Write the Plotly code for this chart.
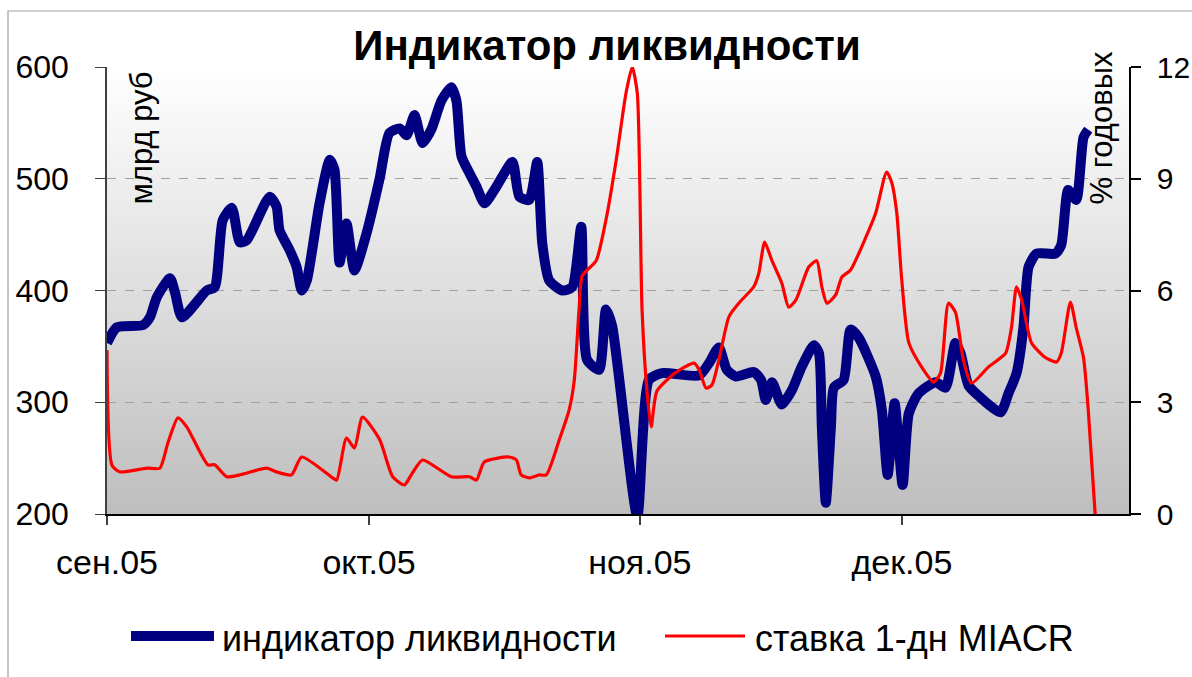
import plotly.graph_objects as go

# ---------------- data ----------------
liq_dates = [
    "2005-09-01 00:00", "2005-09-02 03:00", "2005-09-05 03:00", "2005-09-05 22:00",
    "2005-09-06 17:00", "2005-09-08 05:00", "2005-09-08 19:00", "2005-09-09 14:00",
    "2005-09-12 10:00", "2005-09-13 08:00", "2005-09-14 06:00", "2005-09-15 07:00",
    "2005-09-16 05:00", "2005-09-17 00:00", "2005-09-19 15:00", "2005-09-20 10:00",
    "2005-09-20 18:00", "2005-09-21 22:00", "2005-09-22 17:00", "2005-09-23 07:00",
    "2005-09-23 21:00", "2005-09-25 08:00", "2005-09-26 12:00", "2005-09-27 01:00",
    "2005-09-27 15:00", "2005-09-28 10:00", "2005-09-29 08:00", "2005-09-30 17:00",
    "2005-10-02 05:00", "2005-10-03 08:00", "2005-10-04 12:00", "2005-10-05 07:00",
    "2005-10-06 05:00", "2005-10-07 03:00", "2005-10-08 03:00", "2005-10-09 07:00",
    "2005-10-10 10:00", "2005-10-11 00:00", "2005-10-11 14:00", "2005-10-12 12:00",
    "2005-10-13 07:00", "2005-10-14 05:00", "2005-10-15 14:00", "2005-10-17 10:00",
    "2005-10-18 05:00", "2005-10-19 08:00", "2005-10-20 06:00", "2005-10-20 20:00",
    "2005-10-21 15:00", "2005-10-23 03:00", "2005-10-24 06:00", "2005-10-25 07:00",
    "2005-10-25 23:00", "2005-10-27 08:00", "2005-10-28 03:00", "2005-10-28 20:00",
    "2005-10-31 17:00", "2005-11-02 01:00", "2005-11-03 13:00", "2005-11-07 19:00",
    "2005-11-08 22:00", "2005-11-10 01:00", "2005-11-10 23:00", "2005-11-12 00:00",
    "2005-11-14 01:00", "2005-11-14 21:00", "2005-11-15 10:00", "2005-11-16 03:00",
    "2005-11-17 06:00", "2005-11-18 10:00", "2005-11-19 13:00", "2005-11-20 22:00",
    "2005-11-21 12:00", "2005-11-21 20:00", "2005-11-22 07:00", "2005-11-22 21:00",
    "2005-11-23 05:00", "2005-11-24 08:00", "2005-11-25 03:00", "2005-11-26 01:00",
    "2005-11-28 00:00", "2005-11-28 17:00", "2005-11-29 09:00", "2005-11-30 04:00",
    "2005-12-01 02:00", "2005-12-01 19:00", "2005-12-02 22:00", "2005-12-04 21:00",
    "2005-12-06 00:00", "2005-12-07 03:00", "2005-12-07 17:00", "2005-12-08 15:00",
    "2005-12-09 18:00", "2005-12-12 07:00", "2005-12-13 05:00", "2005-12-14 03:00",
    "2005-12-14 22:00", "2005-12-15 12:00", "2005-12-16 10:00", "2005-12-18 14:00",
    "2005-12-19 06:00", "2005-12-20 01:00", "2005-12-20 23:00", "2005-12-21 19:00",
    "2005-12-22 08:00",
]
liq_values = [
    353, 367, 369, 376, 394, 411, 398, 376, 400, 403, 463, 474, 443, 445, 484, 475,
    454, 436, 421, 400, 409, 478, 517, 508, 425, 460, 418, 451, 500, 541, 545, 539,
    557, 532, 544, 570, 582, 570, 520, 505, 493, 478, 493, 515, 484, 481, 515, 442,
    409, 400, 403, 457, 338, 329, 383, 368, 198, 320, 326, 324, 335, 349, 329, 323,
    327, 320, 302, 318, 298, 311, 332, 351, 344, 278, 210, 278, 313, 320, 365, 358,
    323, 293, 235, 299, 226, 290, 308, 318, 313, 353, 344, 315, 306, 291, 308, 326,
    367, 421, 433, 433, 441, 490, 481, 537, 544,
]

rate_dates = [
    "2005-09-01 00:00", "2005-09-01 14:00", "2005-09-02 12:00", "2005-09-05 14:00",
    "2005-09-07 01:00", "2005-09-07 23:00", "2005-09-09 03:00", "2005-09-10 03:00",
    "2005-09-12 13:00", "2005-09-13 08:00", "2005-09-14 17:00", "2005-09-16 05:00",
    "2005-09-19 07:00", "2005-09-20 10:00", "2005-09-22 03:00", "2005-09-23 07:00",
    "2005-09-26 20:00", "2005-09-27 07:00", "2005-09-28 10:00", "2005-09-29 08:00",
    "2005-09-30 06:00", "2005-10-02 05:00", "2005-10-03 17:00", "2005-10-05 01:00",
    "2005-10-05 23:00", "2005-10-07 03:00", "2005-10-10 10:00", "2005-10-12 12:00",
    "2005-10-13 07:00", "2005-10-14 05:00", "2005-10-17 01:00", "2005-10-17 21:00",
    "2005-10-18 10:00", "2005-10-19 08:00", "2005-10-20 12:00", "2005-10-21 07:00",
    "2005-10-22 19:00", "2005-10-23 22:00", "2005-10-24 12:00", "2005-10-25 01:00",
    "2005-10-25 10:00", "2005-10-27 00:00", "2005-10-28 03:00", "2005-10-29 07:00",
    "2005-10-30 10:00", "2005-10-31 03:00", "2005-10-31 17:00", "2005-11-01 06:00",
    "2005-11-01 20:00", "2005-11-02 07:00", "2005-11-02 23:00", "2005-11-05 03:00",
    "2005-11-07 05:00", "2005-11-07 19:00", "2005-11-08 14:00", "2005-11-09 06:00",
    "2005-11-10 01:00", "2005-11-11 05:00", "2005-11-12 08:00", "2005-11-14 01:00",
    "2005-11-14 15:00", "2005-11-15 07:00", "2005-11-16 03:00", "2005-11-17 06:00",
    "2005-11-18 01:00", "2005-11-18 21:00", "2005-11-20 08:00", "2005-11-21 06:00",
    "2005-11-21 20:00", "2005-11-22 10:00", "2005-11-23 10:00", "2005-11-24 03:00",
    "2005-11-25 03:00", "2005-11-26 21:00", "2005-11-28 00:00", "2005-11-29 06:00",
    "2005-11-29 20:00", "2005-11-30 10:00", "2005-11-30 23:00", "2005-12-01 19:00",
    "2005-12-03 06:00", "2005-12-04 15:00", "2005-12-05 10:00", "2005-12-06 08:00",
    "2005-12-07 03:00", "2005-12-08 01:00", "2005-12-08 23:00", "2005-12-10 22:00",
    "2005-12-12 21:00", "2005-12-13 13:00", "2005-12-14 03:00", "2005-12-14 17:00",
    "2005-12-15 20:00", "2005-12-17 10:00", "2005-12-18 17:00", "2005-12-19 06:00",
    "2005-12-20 07:00", "2005-12-20 23:00", "2005-12-21 19:00", "2005-12-22 08:00",
    "2005-12-23 03:00",
]
rate_values = [
    4.4, 1.3, 1.13, 1.23, 1.23, 1.9, 2.58, 2.34, 1.32, 1.32, 1.0, 1.05,
    1.23, 1.13, 1.05, 1.53, 0.97, 0.91, 2.04, 1.77, 2.6, 2.0, 1.0, 0.78,
    1.1, 1.45, 1.0, 1.0, 0.91, 1.4, 1.53, 1.45, 1.05, 0.97, 1.05, 1.05,
    2.0, 2.8, 3.6, 5.5, 6.4, 6.8, 7.9, 9.5, 11.3, 12.0, 11.3, 5.5,
    3.25, 2.34, 3.3, 3.8, 4.05, 3.87, 3.38, 3.46, 4.13, 5.3, 5.66, 6.1,
    6.47, 7.3, 6.8, 6.2, 5.55, 5.75, 6.63, 6.8, 6.1, 5.66, 5.88, 6.36,
    6.55, 7.43, 8.08, 9.18, 8.9, 8.08, 6.36, 4.6, 3.95, 3.54, 3.78, 5.66,
    5.42, 4.13, 3.51, 3.95, 4.32, 5.0, 6.1, 5.75, 4.6, 4.2, 4.08, 4.32,
    5.69, 5.0, 4.2, 2.8, 0.0,
]

month_ticks = ["2005-09-01", "2005-10-01", "2005-11-01", "2005-12-01"]
month_labels = ["сен.05", "окт.05", "ноя.05", "дек.05"]

title_text = "Индикатор ликвидности"
liq_name = "индикатор ликвидности"
rate_name = "ставка 1-дн MIACR"
left_title = "млрд руб"
right_title = "% годовых"

# ---------------- figure ----------------
FONT = "Liberation Sans, Arial, sans-serif"
W, H = 1192, 677
L, R, T, B = 107, 1129, 67, 514

def px_x(x):
    return (x - L) / (R - L)

def px_y(y):
    return (B - y) / (B - T)

fig = go.Figure()
fig.add_trace(go.Scatter(
    x=liq_dates, y=liq_values, name=liq_name, mode="lines",
    line=dict(color="#000080", width=10, shape="spline", smoothing=0.6),
    yaxis="y", showlegend=False,
))
fig.add_trace(go.Scatter(
    x=rate_dates, y=rate_values, name=rate_name, mode="lines",
    line=dict(color="#FF0000", width=3.2, shape="spline", smoothing=0.6),
    yaxis="y2", showlegend=False,
))

shapes = []
# gradient background of plot area
n = 90
for i in range(n):
    t = (i + 0.5) / n  # 0 at top, 1 at bottom
    g = int(round(255 - t * (255 - 190)))
    shapes.append(dict(
        type="rect", xref="x domain", yref="y domain",
        x0=0, x1=1, y0=1 - (i + 1) / n, y1=1 - i / n + 0.002,
        fillcolor=f"rgb({g},{g},{g})", line=dict(width=0), layer="below",
    ))
# outer chart border
shapes.append(dict(
    type="rect", xref="paper", yref="paper",
    x0=px_x(8), x1=px_x(1200), y0=px_y(690), y1=px_y(11),
    line=dict(color="#A0A0A0", width=1.2), fillcolor="rgba(0,0,0,0)", layer="above",
))
# manual legend samples
shapes.append(dict(type="line", xref="paper", yref="paper",
                   x0=px_x(131), x1=px_x(214), y0=px_y(636), y1=px_y(636),
                   line=dict(color="#000080", width=10)))
shapes.append(dict(type="line", xref="paper", yref="paper",
                   x0=px_x(665), x1=px_x(745), y0=px_y(636), y1=px_y(636),
                   line=dict(color="#FF0000", width=3)))

annotations = [
    dict(text=liq_name, xref="paper", yref="paper", x=px_x(220), y=px_y(638),
         xanchor="left", yanchor="middle", showarrow=False,
         font=dict(family=FONT, size=36, color="black")),
    dict(text=rate_name, xref="paper", yref="paper", x=px_x(753), y=px_y(638),
         xanchor="left", yanchor="middle", showarrow=False,
         font=dict(family=FONT, size=36, color="black")),
    dict(text=left_title, xref="paper", yref="paper", x=px_x(141), y=px_y(70),
         xanchor="center", yanchor="top", textangle=-90, showarrow=False,
         font=dict(family=FONT, size=31, color="black")),
    dict(text=right_title, xref="paper", yref="paper", x=px_x(1101), y=px_y(207),
         xanchor="center", yanchor="bottom", textangle=-90, showarrow=False,
         font=dict(family=FONT, size=31, color="black")),
]

fig.update_layout(
    width=W, height=H, autosize=False,
    margin=dict(l=L, r=W - R, t=T, b=H - B, pad=0, autoexpand=False),
    paper_bgcolor="white", plot_bgcolor="rgba(0,0,0,0)",
    title=dict(text=f"<b>{title_text}</b>", x=607 / W, xanchor="center",
               y=1 - 45 / H, yanchor="middle",
               font=dict(family=FONT, size=42, color="black")),
    font=dict(family=FONT, size=31, color="black"),
    shapes=shapes, annotations=annotations,
    xaxis=dict(
        type="date", range=["2005-09-01", "2005-12-27"],
        tickvals=month_ticks, ticktext=month_labels,
        ticks="outside", ticklen=9, tickcolor="#404040", tickwidth=1.5,
        showline=True, linecolor="black", linewidth=1.5, automargin=False,
        showgrid=False, zeroline=False, ticklabelstandoff=8,
        tickfont=dict(family=FONT, size=34),
    ),
    yaxis=dict(
        range=[200, 600], tickvals=[200, 300, 400, 500, 600],
        ticks="outside", ticklen=10, tickcolor="#404040", tickwidth=1,
        showline=True, linecolor="#404040", linewidth=1.5, automargin=False,
        showgrid=True, gridcolor="#A0A0A0", griddash="dash", gridwidth=1,
        zeroline=False, ticklabelstandoff=20,
        tickfont=dict(family=FONT, size=32),
    ),
    yaxis2=dict(
        range=[0, 12], tickvals=[0, 3, 6, 9, 12], overlaying="y", side="right",
        ticks="outside", ticklen=10, tickcolor="black", tickwidth=1.5,
        showline=True, linecolor="black", linewidth=1.5, automargin=False,
        showgrid=False, zeroline=False, ticklabelstandoff=10,
        tickfont=dict(family=FONT, size=30),
    ),
)

fig.write_html(
    "out.html",
    config={"responsive": False, "displayModeBar": False},
    post_script="document.body.style.margin='0';document.body.style.overflow='hidden';",
)
